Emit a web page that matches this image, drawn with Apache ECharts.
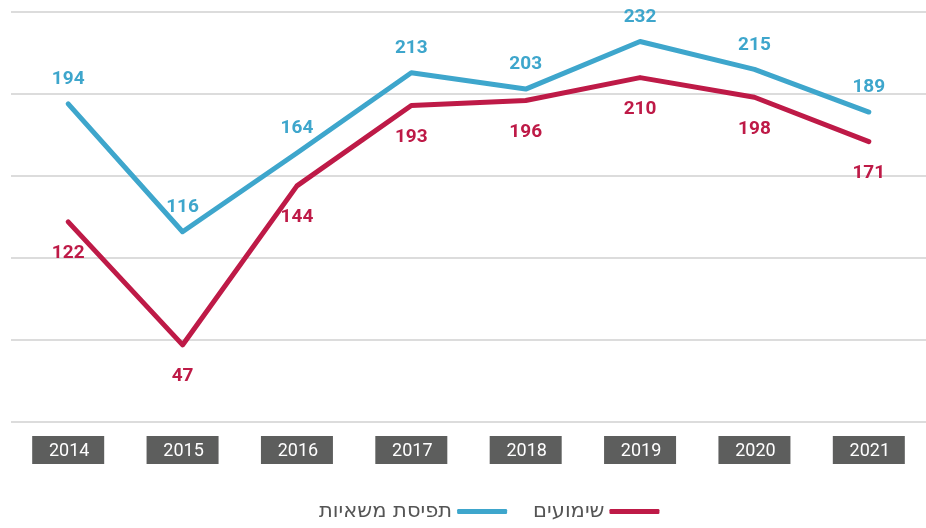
<!DOCTYPE html>
<html>
<head>
<meta charset="utf-8">
<script src="https://cdn.jsdelivr.net/npm/echarts@6/dist/echarts.min.js"></script>
<style>html,body{margin:0;padding:0;background:#fff}#c{width:926px;height:528px}</style>
</head>
<body>
<div id="c"></div>
<script>
const years = ['2014','2015','2016','2017','2018','2019','2020','2021'];
const seizures = [194, 116, 164, 213, 203, 232, 215, 189];
const hearings = [122, 47, 144, 193, 196, 210, 198, 171];
const seizuresName = 'תפיסת משאיות';
const hearingsName = 'שימועים';

const chart = echarts.init(document.getElementById('c'), null, {renderer: 'canvas'});
const labelFont = {fontFamily: 'Roboto', fontWeight: 'bold', fontSize: 19};
chart.setOption({
  animation: false,
  grid: {left: 11, right: -13, top: 12, bottom: 106, containLabel: false},
  xAxis: {
    type: 'category',
    data: years,
    boundaryGap: true,
    axisLine: {show: false},
    axisTick: {show: false},
    axisLabel: {
      color: '#ffffff', backgroundColor: '#5d5e5d', fontFamily: 'Roboto', fontSize: 18,
      padding: [6, 14, 4, 16], margin: 14, width: 42, align: 'center'
    }
  },
  yAxis: {
    type: 'value', min: 0, max: 250, interval: 50,
    axisLabel: {show: false}, axisLine: {show: false}, axisTick: {show: false},
    splitLine: {lineStyle: {color: '#dcdcdc', width: 2}}
  },
  legend: {
    data: [seizuresName, hearingsName],
    bottom: 1, left: 314, align: 'right',
    itemWidth: 50, itemHeight: 5, itemGap: 26,
    icon: 'roundRect',
    textStyle: {color: '#555555', fontFamily: 'DejaVu Sans', fontSize: 21}
  },
  series: [
    {
      name: seizuresName, type: 'line', data: seizures,
      symbol: 'circle', symbolSize: 0, showSymbol: true,
      itemStyle: {color: '#3ea6cc'},
      lineStyle: {color: '#3ea6cc', width: 5, cap: 'round', join: 'round'},
      label: Object.assign({show: true, position: 'top', distance: 15, color: '#3ea6cc'}, labelFont)
    },
    {
      name: hearingsName, type: 'line', data: hearings,
      symbol: 'circle', symbolSize: 0, showSymbol: true,
      itemStyle: {color: '#be1a47'},
      lineStyle: {color: '#be1a47', width: 5, cap: 'round', join: 'round'},
      label: Object.assign({show: true, position: 'bottom', distance: 22, color: '#be1a47'}, labelFont)
    }
  ]
});
</script>
</body>
</html>
